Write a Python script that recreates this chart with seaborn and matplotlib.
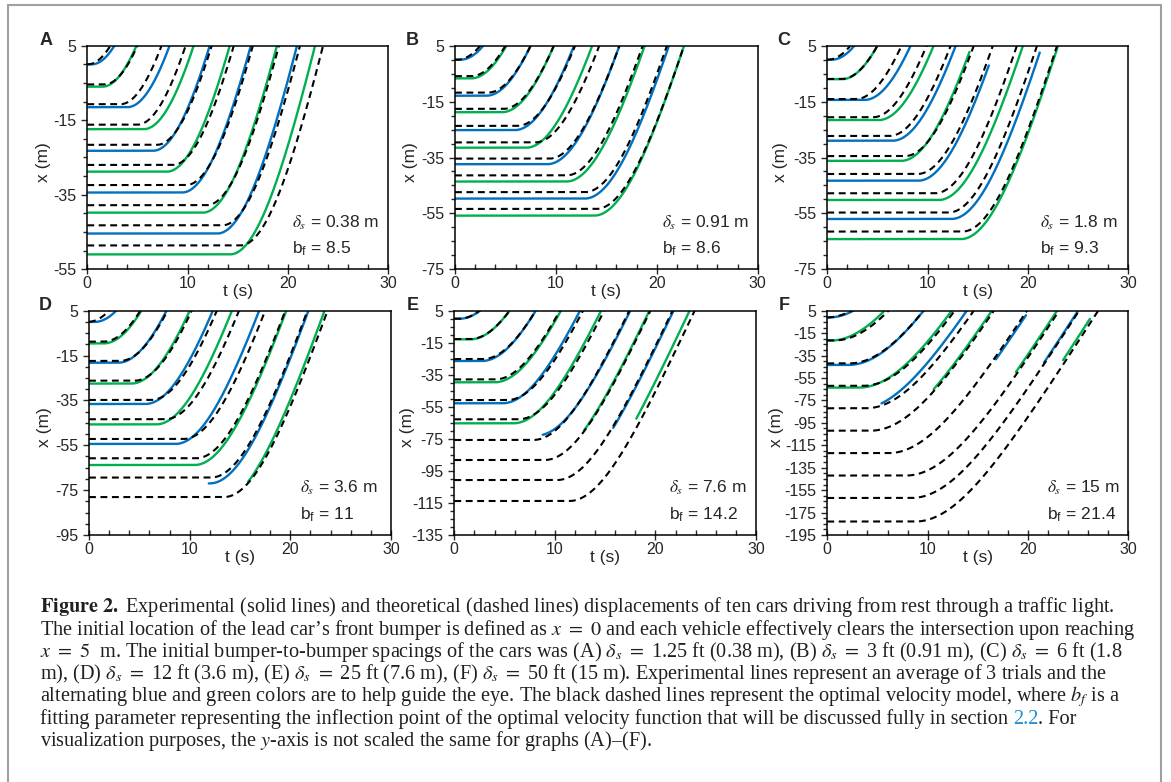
import numpy as np
import pandas as pd
import matplotlib
matplotlib.use("Agg")
import matplotlib.pyplot as plt
import seaborn as sns
from matplotlib.patches import Rectangle

# ---------------- data ----------------
panels = ["A", "B", "C", "D", "E", "F"]
delta_labels = ["0.38", "0.91", "1.8", "3.6", "7.6", "15"]
bf_labels = ["8.5", "8.6", "9.3", "11", "14.2", "21.4"]
y_bottom = [-55, -75, -75, -95, -135, -195]

# acceleration (m/s2) and top speed (m/s) of the smooth start-up shape, per panel
accel = [2.0, 2.0, 2.0, 2.2, 2.5, 2.0]
vmax = [12, 12, 12, 13, 13.5, 14]

# dashed (theory): rest position x0 (m) and time (s) the car reaches x = 5 m
theory_x0_A = [0, -5.4, -10.7, -16.2, -21.6, -27.0, -32.4, -37.8, -43.2, -48.6]
theory_tx_A = [2.3, 5.0, 7.4, 9.8, 12.4, 14.6, 16.5, 19.1, 21.2, 23.5]
theory_x0_B = [0, -5.9, -11.8, -17.6, -23.7, -29.6, -35.4, -41.4, -47.4, -53.4]
theory_tx_B = [2.5, 5.0, 7.5, 9.8, 11.9, 14.3, 16.3, 18.6, 21.0, 22.7]
theory_x0_C = [0, -6.9, -14.1, -20.6, -27.3, -34.5, -40.9, -47.8, -54.7, -61.5]
theory_tx_C = [2.3, 5.0, 7.4, 9.9, 12.3, 14.6, 16.5, 18.9, 20.9, 22.9]
theory_x0_D = [0, -8.8, -17.4, -26.2, -34.8, -43.4, -52.2, -60.8, -69.4, -78.1]
theory_tx_D = [2.0, 5.1, 7.8, 10.2, 12.7, 14.9, 17.5, 19.5, 21.7, 23.7]
theory_x0_E = [0, -12.7, -25.2, -37.9, -50.8, -62.8, -75.7, -88.2, -100.7, -113.8]
theory_tx_E = [2.5, 5.5, 8.1, 10.5, 12.8, 14.9, 17.4, 19.5, 21.7, 23.9]
theory_x0_F = [-1, -21.5, -42, -62, -82, -102, -122, -142, -162, -183]
theory_tx_F = [2.4, 6.1, 9.6, 12.7, 14.6, 16.6, 19.9, 23.1, 25.1, 27.0]

# solid (experiment): rest position, time at x = 5 m, visible time window
exp_x0_A = [0, -6.0, -11.5, -17.4, -23.2, -28.8, -34.4, -39.8, -45.4, -51.0]
exp_tx_A = [2.7, 4.9, 8.2, 10.6, 12.2, 14.2, 16.3, 18.9, 20.9, 22.7]
exp_tlo_A = [0, 0, 0, 0, 0, 0, 0, 0, 0, 0]
exp_thi_A = [30, 30, 30, 30, 30, 30, 30, 30, 30, 30]
exp_x0_B = [0, -6.7, -12.9, -18.8, -25.2, -31.5, -37.4, -43.6, -49.7, -55.8]
exp_tx_B = [2.8, 5.1, 7.5, 9.8, 11.8, 13.6, 16.3, 18.8, 21.2, 22.7]
exp_tlo_B = [0, 0, 0, 0, 0, 0, 0, 0, 0, 0]
exp_thi_B = [30, 30, 30, 30, 30, 30, 30, 30, 30, 30]
exp_x0_C = [0, -7.0, -14.4, -21.6, -29.0, -36.2, -43.3, -50.2, -57.0, -64.2]
exp_tx_C = [2.7, 5.0, 8.3, 10.6, 12.8, 14.4, 16.8, 19.5, 21.4, 23.0]
exp_tlo_C = [0, 0, 0, 0, 0, 0, 0, 0, 0, 0]
exp_thi_C = [30, 30, 30, 30, 30, 14.2, 16.1, 30, 21.2, 30]
exp_x0_D = [0, -9.6, -18.2, -27.5, -36.6, -45.7, -54.4, -63.8, -72.0, -80.0]
exp_tx_D = [2.7, 5.2, 7.7, 10.0, 12.3, 14.2, 16.9, 19.6, 21.8, 23.4]
exp_tlo_D = [0, 0, 0, 0, 0, 0, 0, 0, 11.9, 15.8]
exp_thi_D = [30, 30, 30, 30, 30, 30, 30, 30, 30, 30]
exp_x0_E = [0, -12.9, -26.4, -39.7, -52.8, -65.3, -73.0, -89.0, -101.0, -114.0]
exp_tx_E = [2.55, 5.5, 8.1, 10.6, 12.5, 14.6, 17.5, 19.4, 21.8, 23.4]
exp_tlo_E = [0, 0, 0, 0, 0, 0, 8.8, 12.9, 15.8, 18.1]
exp_thi_E = [30, 30, 30, 30, 30, 30, 30, 30, 30, 30]
exp_x0_F = [-1, -21.7, -43.4, -63.6, -83, -103, -123, -143, -163, -184]
exp_tx_F = [2.6, 5.7, 9.6, 12.4, 13.9, 16.4, 20.1, 22.9, 25.0, 26.7]
exp_tlo_F = [0, 0, 0, 0, 5.4, 10.6, 16.8, 18.8, 21.6, 23.5]
exp_thi_F = [30, 30, 30, 30, 30, 30, 19.8, 30, 30, 26.2]

theory = {"A": (theory_x0_A, theory_tx_A), "B": (theory_x0_B, theory_tx_B),
          "C": (theory_x0_C, theory_tx_C), "D": (theory_x0_D, theory_tx_D),
          "E": (theory_x0_E, theory_tx_E), "F": (theory_x0_F, theory_tx_F)}
experiment = {"A": (exp_x0_A, exp_tx_A, exp_tlo_A, exp_thi_A),
              "B": (exp_x0_B, exp_tx_B, exp_tlo_B, exp_thi_B),
              "C": (exp_x0_C, exp_tx_C, exp_tlo_C, exp_thi_C),
              "D": (exp_x0_D, exp_tx_D, exp_tlo_D, exp_thi_D),
              "E": (exp_x0_E, exp_tx_E, exp_tlo_E, exp_thi_E),
              "F": (exp_x0_F, exp_tx_F, exp_tlo_F, exp_thi_F)}

BLUE = "#0070C0"
GREEN = "#00B050"


def trajectory(t, x0, t_cross, a, v):
    # car waits at x0, then speeds up smoothly towards v; passes x = 5 at t_cross
    s_go = v / a * np.arccosh(np.exp((5 - x0) * a / v ** 2))
    s = np.clip(t - (t_cross - s_go), 0, None)
    return x0 + v ** 2 / a * np.log(np.cosh(a * s / v))


# ---------------- figure ----------------
sns.set_style("ticks")
plt.rcParams["font.family"] = ["Liberation Sans", "DejaVu Sans"]
plt.rcParams["mathtext.fontset"] = "stix"
plt.rcParams["axes.unicode_minus"] = False

W, H = 1171, 782
fig = plt.figure(figsize=(W / 100, H / 100), dpi=100)

# axes boxes in pixels: left, top, right, bottom
boxes = [(87.3, 45.7, 388.3, 269.3), (455, 45.7, 757.7, 269.3), (827.3, 45.7, 1128.3, 269.3),
         (89, 310.7, 391, 535), (454.3, 310.7, 756, 535), (827.3, 310.7, 1128.3, 535)]
letter_x = [46, 412, 784, 45, 413, 784]
ylab_off = [44, 45, 47, 45, 47, 51]

t = np.linspace(0, 30, 1201)

for k, p in enumerate(panels):
    l, tp, r, b = boxes[k]
    ax = fig.add_axes([l / W, 1 - b / H, (r - l) / W, (b - tp) / H])
    a, v = accel[k], vmax[k]

    # experimental solid lines
    x0s, txs, tlo, thi = experiment[p]
    for i in range(10):
        m = (t >= tlo[i]) & (t <= thi[i])
        xx = trajectory(t[m], x0s[i], txs[i], a, v)
        keep = xx <= 6
        df = pd.DataFrame({"t": t[m][keep], "x": xx[keep]})
        sns.lineplot(data=df, x="t", y="x", ax=ax, color=BLUE if i % 2 == 0 else GREEN,
                     lw=1.7, estimator=None, errorbar=None, sort=False)

    # theoretical dashed lines
    x0s, txs = theory[p]
    for i in range(10):
        xx = trajectory(t, x0s[i], txs[i], a, v)
        keep = xx <= 6
        df = pd.DataFrame({"t": t[keep], "x": xx[keep]})
        sns.lineplot(data=df, x="t", y="x", ax=ax, color="black", lw=1.5,
                     linestyle=(0, (3.3, 2.2)), estimator=None, errorbar=None, sort=False)

    ax.set_xlim(0, 30)
    ax.set_ylim(y_bottom[k], 5)
    ax.set_xticks([0, 10, 20, 30])
    ax.set_xticks(np.arange(0, 31, 2), minor=True)
    ax.set_yticks(np.arange(y_bottom[k], 6, 20))
    ax.set_yticks(np.arange(y_bottom[k], 6, 5), minor=True)
    ax.set_xlabel("")
    ax.set_ylabel("")
    for s in ax.spines.values():
        s.set_visible(True)
        s.set_linewidth(1.1)
        s.set_color("black")
    ax.tick_params(axis="x", which="major", direction="inout", length=7, width=1, labelsize=11.5, pad=1.5)
    ax.tick_params(axis="x", which="minor", direction="in", length=3.5, width=1)
    ax.tick_params(axis="y", which="major", direction="out", length=4, width=1, labelsize=11.5, pad=4)
    ax.tick_params(axis="y", which="minor", direction="out", length=3, width=1)

    axh = b - tp
    axw = r - l
    ax.text(0.5, -22.5 / axh, "t (s)", transform=ax.transAxes, ha="center", va="center", fontsize=12.5)
    ax.text(-ylab_off[k] / axw, 0.48, "x (m)", transform=ax.transAxes, ha="center", va="center",
            rotation=90, fontsize=12.5)
    dx = [0.68, 0.683, 0.707, 0.70, 0.71, 0.729][k]
    ax.text(dx, 0.21, r"$\delta_s$ = " + delta_labels[k] + " m", transform=ax.transAxes,
            ha="left", va="center", fontsize=12.5)
    ax.text(dx, 0.09, r"b$_\mathregular{f}$ = " + bf_labels[k], transform=ax.transAxes,
            ha="left", va="center", fontsize=12.5)
    fig.text(letter_x[k] / W, 1 - (tp - 5.5) / H, p, ha="center", va="center",
             fontsize=13, fontweight="bold")

# frame round the figure
fig.patches.append(Rectangle((8 / W, -0.02), 1153 / W, 1 - 5 / H + 0.02, transform=fig.transFigure,
                             fill=False, edgecolor="#a0a0a0", lw=1.5))

# caption
cap_fs = 14.6
rend = fig.canvas.get_renderer()


def caption_line(y, pieces):
    x = 40
    for s, col in pieces:
        tx = fig.text(x / W, 1 - y / H, s, color=col, fontsize=cap_fs, ha="left", va="center",
                      family=["Liberation Serif", "DejaVu Serif"])
        x = tx.get_window_extent(rend).x1


K = "#231f20"
caption_line(607, [(r"$\mathbf{Figure\ 2.}$ Experimental (solid lines) and theoretical (dashed lines) "
                    "displacements of ten cars driving from rest through a traffic light.", K)])
caption_line(629.5, [("The initial location of the lead car\u2019s front bumper is defined as $x\\ =\\ 0$ "
                      "and each vehicle effectively clears the intersection upon reaching", K)])
caption_line(652, [(r"$x\ =\ 5$  m. The initial bumper-to-bumper spacings of the cars was (A) "
                    r"$\delta_s\ =$ 1.25 ft (0.38 m), (B) $\delta_s\ =$ 3 ft (0.91 m), (C) $\delta_s\ =$ 6 ft (1.8", K)])
caption_line(674, [(r"m), (D) $\delta_s\ =$ 12 ft (3.6 m), (E) $\delta_s\ =$ 25 ft (7.6 m), (F) "
                    r"$\delta_s\ =$ 50 ft (15 m). Experimental lines represent an average of 3 trials and the", K)])
caption_line(696.5, [(r"alternating blue and green colors are to help guide the eye. The black dashed lines "
                      r"represent the optimal velocity model, where $b_f$ is a", K)])
caption_line(719, [("fitting parameter representing the inflection point of the optimal velocity function "
                    "that will be discussed fully in section ", K), ("2.2", "#1f8fd0"), (". For", K)])
caption_line(741, [("visualization purposes, the $y$-axis is not scaled the same for graphs (A)\u2013(F).", K)])

fig.savefig("out.png", dpi=100)
